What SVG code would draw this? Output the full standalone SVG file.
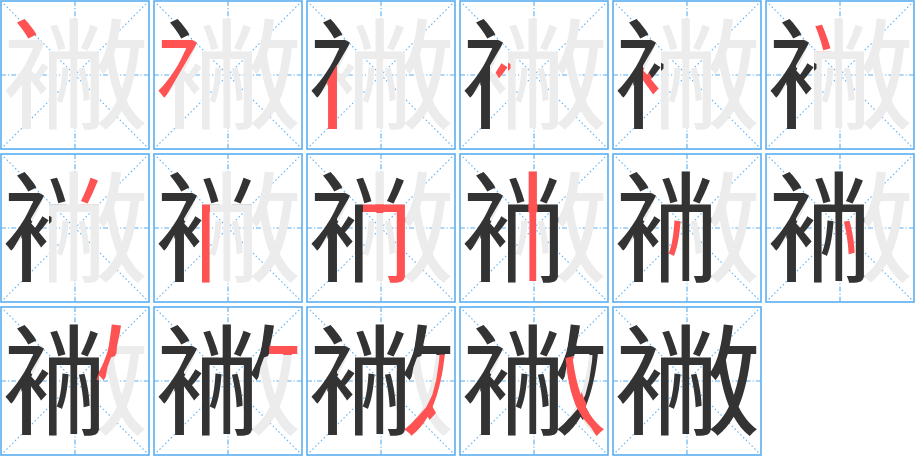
<svg xmlns="http://www.w3.org/2000/svg" width="915" height="456" viewBox="0 0 915 456">
<style>
.bd{fill:none;stroke:#5aaef0;stroke-width:1.6}
.md{stroke:#5aaef0;stroke-width:1.1;stroke-dasharray:5 2 1.2 2}
.dg{stroke:#66b4f2;stroke-width:1.1;stroke-dasharray:1.6 2.4}
.gy{fill:#ececec}
.bk{fill:#333333}
.rd{fill:#ff5252}
</style>
<defs>
<g id="grid">
<rect class="bd" x="0" y="0" width="148" height="148"/>
<line class="md" x1="74" y1="0" x2="74" y2="148"/>
<line class="md" x1="0" y1="74" x2="148" y2="74"/>
<line class="dg" x1="0" y1="0" x2="148" y2="148"/>
<line class="dg" x1="148" y1="0" x2="0" y2="148"/>
</g>
<text id="ch" font-family="'Noto Sans CJK SC','Noto Sans CJK JP',sans-serif" font-size="148" text-anchor="middle" dominant-baseline="central" transform="translate(74.5 66.7) scale(1 0.815)">襒</text>
<rect id="s1" x="14" y="16" width="25" height="22.8"/>
<polygon id="s2" points="7,38.8 44.5,38.8 44,40.5 11,97 3.5,91 32.3,47.8 7,47.8"/>
<polygon id="s3" points="20.3,80.2 30,63.8 30,130 20.3,130"/>
<polygon id="s4" points="42,59 50.5,63 50.5,67.5 39.8,78.5 34.3,69.5"/>
<polygon id="s5" points="30,66.5 34.6,69.5 39.8,78.5 47.5,89 42.5,96.5 37.5,93 30,80"/>
<rect id="s6" x="48" y="22" width="17.5" height="28.3"/>
<rect id="s7" x="78" y="22" width="20" height="28.3"/>
<rect id="s8" x="47.5" y="50.3" width="8.5" height="79"/>
<polygon id="s9" points="56,50.3 98.2,50.3 98.2,130 79.5,130 79.5,120 89.4,120 89.4,59 56,59"/>
<rect id="s10" x="68.3" y="16" width="9.1" height="112.5"/>
<rect id="s11" x="56" y="64" width="12.3" height="40"/>
<rect id="s12" x="77.4" y="64" width="12" height="38"/>
<polygon id="s13" points="109.5,16.5 121,16.5 116,39 115.3,48.5 110,50.5 106.5,60 103.5,75.5 95.5,72.5 100,60 106,46.5 108,38"/>
<rect id="s14" x="115.3" y="38.5" width="29" height="9.5"/>
<polygon id="s15" points="143,47.5 142.6,55 140,74 135.8,91.5 128.5,106.5 118,118 106,129.5 97.8,129.5 97.8,121 110.5,110 119.3,100 125.3,88 129.3,72.5 132,54.5 132.5,47.5"/>
<polygon id="s16" points="105.5,51 114.5,49 117.2,67.5 120,80 124.3,92.5 130.5,104 138,113 146.5,121.5 145,130 137,130 131,120.5 122.5,110.5 115,97.5 110.2,83 107.5,68.5"/>
<clipPath id="r1"><use href="#s1"/></clipPath>
<clipPath id="r2"><use href="#s2"/></clipPath>
<clipPath id="r3"><use href="#s3"/></clipPath>
<clipPath id="r4"><use href="#s4"/></clipPath>
<clipPath id="r5"><use href="#s5"/></clipPath>
<clipPath id="r6"><use href="#s6"/></clipPath>
<clipPath id="r7"><use href="#s7"/></clipPath>
<clipPath id="r8"><use href="#s8"/></clipPath>
<clipPath id="r9"><use href="#s9"/></clipPath>
<clipPath id="r10"><use href="#s10"/></clipPath>
<clipPath id="r11"><use href="#s11"/></clipPath>
<clipPath id="r12"><use href="#s12"/></clipPath>
<clipPath id="r13"><use href="#s13"/></clipPath>
<clipPath id="r14"><use href="#s14"/></clipPath>
<clipPath id="r15"><use href="#s15"/></clipPath>
<clipPath id="r16"><use href="#s16"/></clipPath>
<clipPath id="d2"><use href="#s1"/></clipPath>
<clipPath id="d3"><use href="#s1"/><use href="#s2"/></clipPath>
<clipPath id="d4"><use href="#s1"/><use href="#s2"/><use href="#s3"/></clipPath>
<clipPath id="d5"><use href="#s1"/><use href="#s2"/><use href="#s3"/><use href="#s4"/></clipPath>
<clipPath id="d6"><use href="#s1"/><use href="#s2"/><use href="#s3"/><use href="#s4"/><use href="#s5"/></clipPath>
<clipPath id="d7"><use href="#s1"/><use href="#s2"/><use href="#s3"/><use href="#s4"/><use href="#s5"/><use href="#s6"/></clipPath>
<clipPath id="d8"><use href="#s1"/><use href="#s2"/><use href="#s3"/><use href="#s4"/><use href="#s5"/><use href="#s6"/><use href="#s7"/></clipPath>
<clipPath id="d9"><use href="#s1"/><use href="#s2"/><use href="#s3"/><use href="#s4"/><use href="#s5"/><use href="#s6"/><use href="#s7"/><use href="#s8"/></clipPath>
<clipPath id="d10"><use href="#s1"/><use href="#s2"/><use href="#s3"/><use href="#s4"/><use href="#s5"/><use href="#s6"/><use href="#s7"/><use href="#s8"/><use href="#s9"/></clipPath>
<clipPath id="d11"><use href="#s1"/><use href="#s2"/><use href="#s3"/><use href="#s4"/><use href="#s5"/><use href="#s6"/><use href="#s7"/><use href="#s8"/><use href="#s9"/><use href="#s10"/></clipPath>
<clipPath id="d12"><use href="#s1"/><use href="#s2"/><use href="#s3"/><use href="#s4"/><use href="#s5"/><use href="#s6"/><use href="#s7"/><use href="#s8"/><use href="#s9"/><use href="#s10"/><use href="#s11"/></clipPath>
<clipPath id="d13"><use href="#s1"/><use href="#s2"/><use href="#s3"/><use href="#s4"/><use href="#s5"/><use href="#s6"/><use href="#s7"/><use href="#s8"/><use href="#s9"/><use href="#s10"/><use href="#s11"/><use href="#s12"/></clipPath>
<clipPath id="d14"><use href="#s1"/><use href="#s2"/><use href="#s3"/><use href="#s4"/><use href="#s5"/><use href="#s6"/><use href="#s7"/><use href="#s8"/><use href="#s9"/><use href="#s10"/><use href="#s11"/><use href="#s12"/><use href="#s13"/></clipPath>
<clipPath id="d15"><use href="#s1"/><use href="#s2"/><use href="#s3"/><use href="#s4"/><use href="#s5"/><use href="#s6"/><use href="#s7"/><use href="#s8"/><use href="#s9"/><use href="#s10"/><use href="#s11"/><use href="#s12"/><use href="#s13"/><use href="#s14"/></clipPath>
<clipPath id="d16"><use href="#s1"/><use href="#s2"/><use href="#s3"/><use href="#s4"/><use href="#s5"/><use href="#s6"/><use href="#s7"/><use href="#s8"/><use href="#s9"/><use href="#s10"/><use href="#s11"/><use href="#s12"/><use href="#s13"/><use href="#s14"/><use href="#s15"/></clipPath>
</defs>
<g id="step1" transform="translate(1 1)"><use href="#grid"/><use href="#ch" class="gy"/><use href="#ch" class="rd" clip-path="url(#r1)"/></g>
<g id="step2" transform="translate(154 1)"><use href="#grid"/><use href="#ch" class="gy"/><use href="#ch" class="bk" clip-path="url(#d2)"/><use href="#ch" class="rd" clip-path="url(#r2)"/></g>
<g id="step3" transform="translate(307 1)"><use href="#grid"/><use href="#ch" class="gy"/><use href="#ch" class="bk" clip-path="url(#d3)"/><use href="#ch" class="rd" clip-path="url(#r3)"/></g>
<g id="step4" transform="translate(460 1)"><use href="#grid"/><use href="#ch" class="gy"/><use href="#ch" class="bk" clip-path="url(#d4)"/><use href="#ch" class="rd" clip-path="url(#r4)"/></g>
<g id="step5" transform="translate(613 1)"><use href="#grid"/><use href="#ch" class="gy"/><use href="#ch" class="bk" clip-path="url(#d5)"/><use href="#ch" class="rd" clip-path="url(#r5)"/></g>
<g id="step6" transform="translate(766 1)"><use href="#grid"/><use href="#ch" class="gy"/><use href="#ch" class="bk" clip-path="url(#d6)"/><use href="#ch" class="rd" clip-path="url(#r6)"/></g>
<g id="step7" transform="translate(1 154)"><use href="#grid"/><use href="#ch" class="gy"/><use href="#ch" class="bk" clip-path="url(#d7)"/><use href="#ch" class="rd" clip-path="url(#r7)"/></g>
<g id="step8" transform="translate(154 154)"><use href="#grid"/><use href="#ch" class="gy"/><use href="#ch" class="bk" clip-path="url(#d8)"/><use href="#ch" class="rd" clip-path="url(#r8)"/></g>
<g id="step9" transform="translate(307 154)"><use href="#grid"/><use href="#ch" class="gy"/><use href="#ch" class="bk" clip-path="url(#d9)"/><use href="#ch" class="rd" clip-path="url(#r9)"/></g>
<g id="step10" transform="translate(460 154)"><use href="#grid"/><use href="#ch" class="gy"/><use href="#ch" class="bk" clip-path="url(#d10)"/><use href="#ch" class="rd" clip-path="url(#r10)"/></g>
<g id="step11" transform="translate(613 154)"><use href="#grid"/><use href="#ch" class="gy"/><use href="#ch" class="bk" clip-path="url(#d11)"/><use href="#ch" class="rd" clip-path="url(#r11)"/></g>
<g id="step12" transform="translate(766 154)"><use href="#grid"/><use href="#ch" class="gy"/><use href="#ch" class="bk" clip-path="url(#d12)"/><use href="#ch" class="rd" clip-path="url(#r12)"/></g>
<g id="step13" transform="translate(1 307)"><use href="#grid"/><use href="#ch" class="gy"/><use href="#ch" class="bk" clip-path="url(#d13)"/><use href="#ch" class="rd" clip-path="url(#r13)"/></g>
<g id="step14" transform="translate(154 307)"><use href="#grid"/><use href="#ch" class="gy"/><use href="#ch" class="bk" clip-path="url(#d14)"/><use href="#ch" class="rd" clip-path="url(#r14)"/></g>
<g id="step15" transform="translate(307 307)"><use href="#grid"/><use href="#ch" class="gy"/><use href="#ch" class="bk" clip-path="url(#d15)"/><use href="#ch" class="rd" clip-path="url(#r15)"/></g>
<g id="step16" transform="translate(460 307)"><use href="#grid"/><use href="#ch" class="gy"/><use href="#ch" class="bk" clip-path="url(#d16)"/><use href="#ch" class="rd" clip-path="url(#r16)"/></g>
<g id="step17" transform="translate(613 307)"><use href="#grid"/><use href="#ch" class="bk"/></g>
</svg>
